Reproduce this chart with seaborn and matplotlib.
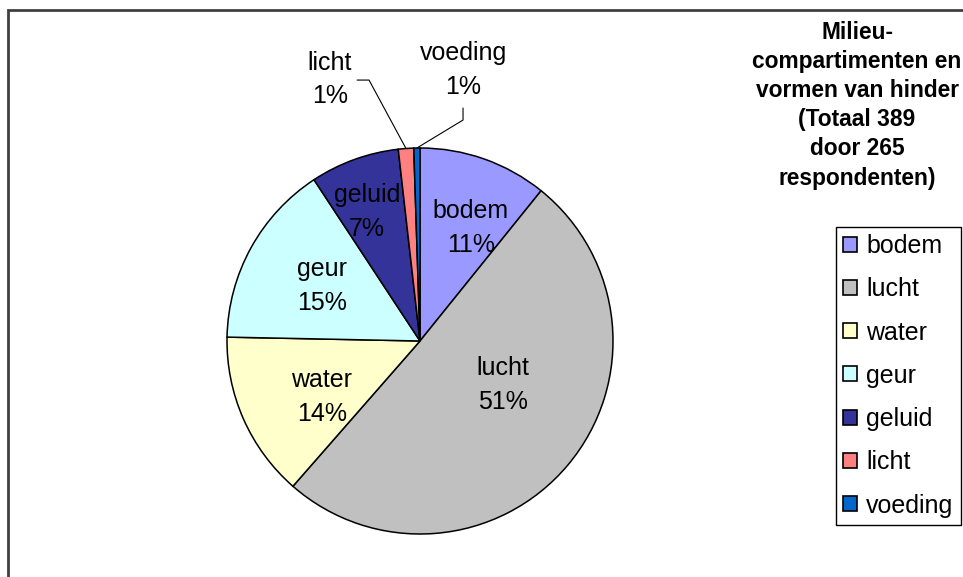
import numpy as np
import matplotlib
matplotlib.use("Agg")
import matplotlib.pyplot as plt
from matplotlib.patches import Rectangle
import seaborn as sns

# data (total 389 mentions)
categories = ["bodem", "lucht", "water", "geur", "geluid", "licht", "voeding"]
counts = [42, 197, 54, 60, 29, 5, 2]
colors = ["#9999FF", "#C0C0C0", "#FFFFCC", "#CCFFFF", "#333399", "#FF8080", "#0066CC"]
title_text = "Milieu-\ncompartimenten en\nvormen van hinder\n(Totaal 389\ndoor 265\nrespondenten)"

# label block centres (data units, pie radius = 1)
label_xy = [(0.264, 0.585), (0.430, -0.228), (-0.508, -0.290), (-0.508, 0.285),
            (-0.275, 0.668), (-0.466, 1.355), (0.223, 1.405)]
# leader lines for the outside labels: start, elbow
leaders = {5: [(-0.326, 1.352), (-0.264, 1.352)],
           6: [(0.223, 1.207), (0.223, 1.145)]}

sns.set_style("white")
plt.rcParams["font.family"] = ["Liberation Sans", "DejaVu Sans"]
plt.rcParams["text.color"] = "black"

W, H = 963, 577
fig = plt.figure(figsize=(W / 100, H / 100), dpi=100)
fig.patch.set_facecolor("white")

# pie centre and radius in pixels
cx, cy, R = 420, 341, 193
ax = fig.add_axes([0, 0, 1, 1])
wedges, _ = ax.pie(counts, colors=colors, startangle=90, counterclock=False,
                   wedgeprops=dict(edgecolor="black", linewidth=1.1))
ax.set_xlim(-cx / R, (W - cx) / R)
ax.set_ylim(-(H - cy) / R, cy / R)
ax.set_aspect("equal")
ax.axis("off")

total = sum(counts)
for i, (w, name, n) in enumerate(zip(wedges, categories, counts)):
    pct = "%d%%" % round(100 * n / total)
    lx, ly = label_xy[i]
    ax.text(lx, ly, name + "\n" + pct, ha="center", va="center",
            fontsize=18, color="black", linespacing=1.5)
    if i in leaders:
        mid = np.deg2rad((w.theta1 + w.theta2) / 2)
        pts = leaders[i] + [(np.cos(mid), np.sin(mid))]
        xs, ys = zip(*pts)
        ax.plot(xs, ys, color="black", lw=0.8)

# title, top right
fig.text(857 / W, 1 - 21 / H, title_text, ha="center", va="top",
         fontsize=16.4, fontweight="bold", linespacing=1.34, color="black")

# legend
leg = fig.legend(wedges, categories, loc="upper left",
                 bbox_to_anchor=(836 / W, 1 - 227 / H), fontsize=18,
                 frameon=True, fancybox=False, framealpha=1, edgecolor="black",
                 borderpad=0.28, labelspacing=0.77, handlelength=0.55,
                 handleheight=0.55, handletextpad=0.38, borderaxespad=0)
leg.get_frame().set_linewidth(1)
for t in leg.get_texts():
    t.set_color("black")
for h in leg.legend_handles:
    h.set_edgecolor("black")
    h.set_linewidth(1.2)

# outer chart frame (only top and left edges fall inside the image)
fig.patches.append(Rectangle((8 / W, -0.2), 1.5, 1 - 10 / H + 0.2,
                             transform=fig.transFigure, fill=False,
                             edgecolor="#404040", linewidth=2))

fig.savefig("out.png", dpi=100)
